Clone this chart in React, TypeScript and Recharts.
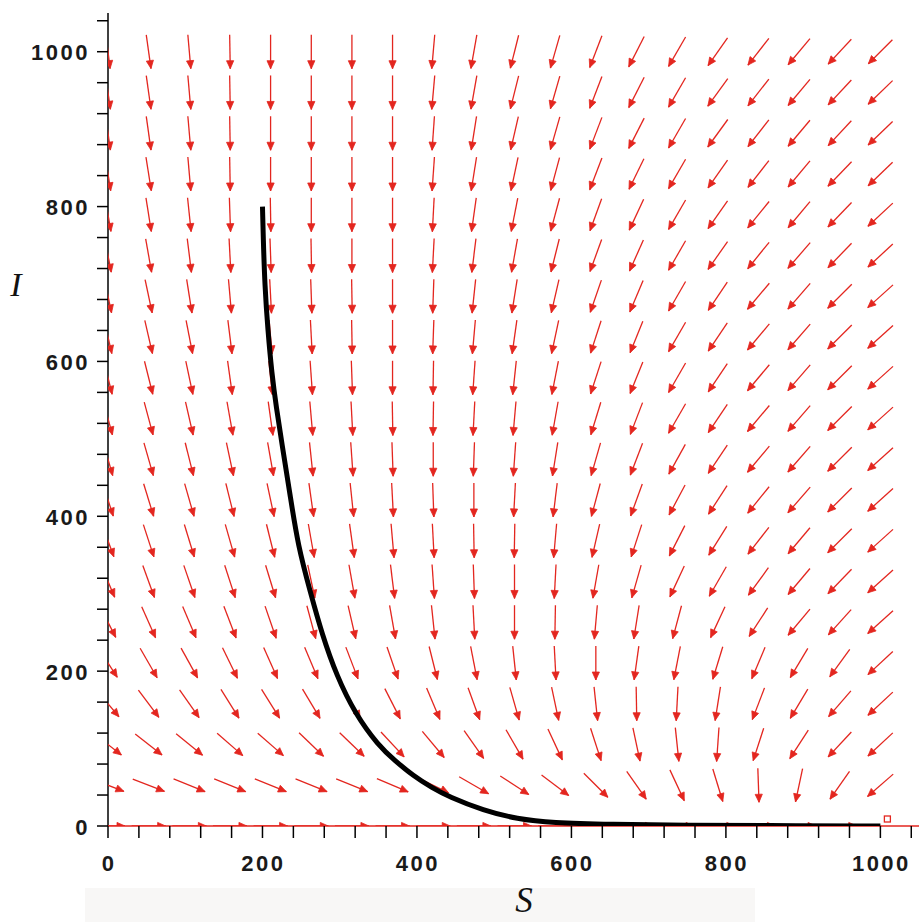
import React from "react";
import { ScatterChart, Scatter, XAxis, YAxis } from "recharts";

// grid of the direction field (S and I values where arrows sit)
const sGrid = [0, 52.6, 105.3, 157.9, 210.5, 263.2, 315.8, 368.4, 421.1, 473.7, 526.3, 578.9, 631.6, 684.2, 736.8, 789.5, 842.1, 894.7, 947.4, 1000];
const iGrid = [0, 52.6, 105.3, 157.9, 210.5, 263.2, 315.8, 368.4, 421.1, 473.7, 526.3, 578.9, 631.6, 684.2, 736.8, 789.5, 842.1, 894.7, 947.4, 1000];

// arrow tilt in degrees: 0 = straight down, + = towards larger S
// one row per I value (bottom row first), null = no arrow (rest point)
const tiltDeg: (number | null)[][] = [
  [90, 90, 90, 90, 90, 90, 90, 90, 90, 90, 90, 90, 90, 90, 90, 90, 90, 90, 90, null],
  [69, 69, 68, 68, 68, 68, 68, 67, 64, 60, 57, 53, 45, 35, 25, 17, 2, -12, -35, -49],
  [52, 52, 51, 49, 49, 46, 46, 43, 40, 35, 30, 25, 18, 12, 6, -4, -18, -33, -43, -47],
  [40, 37, 35, 32, 32, 31, 29, 27, 23, 20, 16, 12, 6, 1, -3, -9, -21, -31, -41, -47],
  [33, 30, 29, 26, 24, 23, 21, 19, 14, 11, 6, 3, 0, -8, -11, -17, -23, -31, -36, -47],
  [27, 24, 23, 21, 19, 15, 13, 10, 6, 3, 0, -1, -5, -9, -15, -25, -33, -40, -42, -48],
  [23, 20, 19, 18, 17, 12, 10, 7, 4, 2, 0, -3, -10, -16, -25, -30, -36, -40, -44, -48],
  [20, 18, 17, 16, 14, 10, 8, 5, 3, 1, -1, -5, -13, -18, -27, -32, -38, -40, -45, -48],
  [18, 17, 16, 14, 12, 8, 6, 3, 2, 0, -3, -7, -15, -20, -28, -33, -39, -41, -45, -48],
  [16, 16, 14, 12, 10, 6, 4, 2, 0, -2, -4, -9, -16, -21, -29, -34, -40, -41, -45, -48],
  [15, 15, 13, 10, 8, 5, 3, 1, -1, -3, -5, -10, -17, -21, -30, -34, -40, -41, -45, -48],
  [14, 14, 12, 8, 6, 4, 2, 0, -1, -4, -6, -11, -18, -22, -30, -34, -40, -41, -45, -48],
  [13, 13, 11, 7, 5, 3, 1, 0, -2, -5, -8, -12, -18, -22, -30, -34, -40, -41, -45, -48],
  [12, 12, 9, 5, 3, 2, 1, 0, -2, -6, -9, -13, -19, -23, -30, -34, -40, -41, -45, -48],
  [11, 10, 7, 3, 2, 1, 0, 0, -3, -7, -10, -14, -20, -24, -30, -35, -39, -41, -44, -47],
  [10, 9, 6, 2, 1, 0, 0, 0, -3, -8, -11, -15, -20, -25, -30, -35, -39, -40, -44, -47],
  [9, 9, 5, 1, 0, 0, 0, 0, -4, -9, -12, -15, -21, -26, -30, -35, -38, -40, -44, -46],
  [8, 8, 5, 1, 0, 0, 0, 0, -4, -9, -13, -16, -21, -27, -30, -36, -38, -40, -43, -46],
  [8, 8, 5, 1, 0, 0, 0, 0, -5, -10, -14, -16, -21, -27, -30, -36, -38, -40, -43, -46],
  [7, 8, 5, 1, 0, 0, 0, 0, -5, -10, -14, -16, -21, -27, -30, -35, -38, -40, -43, -45],
];

// the black solution curve
const curveS = [200, 201, 203, 207, 212, 218, 225, 236, 246, 262, 277, 296, 320, 350, 372, 395, 420, 441, 486, 530, 575, 650, 750, 850, 1000];
const curveI = [800, 760, 698, 640, 585, 540, 495, 426, 362, 302, 248, 194, 145, 104, 84, 65, 49, 38, 20, 9, 4, 2, 1, 0.5, 0];

// axis ticks: minor every 40, labelled every 200
const axisTicks = [0, 40, 80, 120, 160, 200, 240, 280, 320, 360, 400, 440, 480, 520, 560, 600, 640, 680, 720, 760, 800, 840, 880, 920, 960, 1000, 1040];
const labelledTicks = [0, 200, 400, 600, 800, 1000];

const RED = "#e3261f";

const fieldPoints = iGrid.flatMap((I, j) =>
  sGrid.map((S, k) => ({ S, I, tilt: tiltDeg[j][k] }))
);
const curvePoints = curveS.map((S, i) => ({ S, I: curveI[i] }));

const ArrowShape = (props: any) => {
  const { cx, cy, payload } = props;
  if (cx == null || cy == null) return <g />;
  const t = payload.tilt;
  if (t === null) {
    return <rect x={cx + 4} y={cy - 10} width={6} height={6} fill="none" stroke={RED} strokeWidth={1.3} />;
  }
  const a = (t * Math.PI) / 180;
  const dx = Math.sin(a);
  const dy = Math.cos(a);
  const half = 17;
  const x1 = cx - dx * half;
  const y1 = cy - dy * half;
  const x2 = cx + dx * half;
  const y2 = cy + dy * half;
  const hl = 8;
  const hw = 3.6;
  const bx = x2 - dx * hl;
  const by = y2 - dy * hl;
  const px = -dy;
  const py = dx;
  const pts = `${x2},${y2} ${bx + px * hw},${by + py * hw} ${bx - px * hw},${by - py * hw}`;
  return (
    <g>
      <line x1={x1} y1={y1} x2={x2} y2={y2} stroke={RED} strokeWidth={1.3} />
      <polygon points={pts} fill={RED} stroke={RED} strokeWidth={0.8} />
    </g>
  );
};

const tickFont = {
  fontFamily: "'Liberation Sans', Arial, sans-serif",
  fontWeight: 700,
  fontSize: 22,
  fill: "#1a1a1a",
  letterSpacing: 2.5,
};

const XTick = (props: any) => {
  const { x, y, payload } = props;
  const major = labelledTicks.includes(payload.value);
  return (
    <g>
      <line x1={x} y1={y} x2={x} y2={y + 12} stroke="#000" strokeWidth={1.5} />
      {major && (
        <text x={x + 1} y={y + 45} textAnchor="middle" {...tickFont}>
          {payload.value}
        </text>
      )}
    </g>
  );
};

const YTick = (props: any) => {
  const { x, y, payload } = props;
  const major = labelledTicks.includes(payload.value);
  return (
    <g>
      <line x1={x - 11} y1={y} x2={x} y2={y} stroke="#000" strokeWidth={1.5} />
      {major && (
        <text x={x - 18} y={y + 1} textAnchor="end" dominantBaseline="central" {...tickFont}>
          {payload.value}
        </text>
      )}
    </g>
  );
};

const App = () => {
  return (
    <div style={{ position: "absolute", left: 0, top: 0, width: 921, height: 922, background: "#fff" }}>
      <div style={{ position: "absolute", left: 85, top: 888, width: 670, height: 34, background: "#f8f7f6" }} />
      <ScatterChart
        width={921}
        height={922}
        margin={{ top: 13, right: 2, left: 0, bottom: 0 }}
        style={{ position: "absolute", left: 0, top: 0 }}
      >
        <XAxis
          type="number"
          dataKey="S"
          domain={[0, 1050]}
          ticks={axisTicks}
          interval={0}
          height={96}
          tickSize={0}
          tickMargin={0}
          tickLine={false}
          tick={<XTick />}
          axisLine={{ stroke: RED, strokeWidth: 1.5 }}
          allowDataOverflow
          label={() => (
            <text
              x={524}
              y={912}
              textAnchor="middle"
              fontFamily="'Liberation Serif', 'Times New Roman', serif"
              fontStyle="italic"
              fontSize={35}
              fill="#111"
            >
              S
            </text>
          )}
        />
        <YAxis
          type="number"
          dataKey="I"
          domain={[0, 1050]}
          ticks={axisTicks}
          interval={0}
          width={108}
          tickSize={0}
          tickMargin={0}
          tickLine={false}
          tick={<YTick />}
          axisLine={{ stroke: "#000", strokeWidth: 1.5 }}
          allowDataOverflow
          label={() => (
            <text
              x={16}
              y={296}
              textAnchor="middle"
              fontFamily="'Liberation Serif', 'Times New Roman', serif"
              fontStyle="italic"
              fontSize={34}
              fill="#111"
            >
              I
            </text>
          )}
        />
        <Scatter data={fieldPoints} shape={<ArrowShape />} isAnimationActive={false} />
        <Scatter
          data={curvePoints}
          line={{ stroke: "#000", strokeWidth: 5 }}
          lineJointType="basis"
          shape={() => <g />}
          isAnimationActive={false}
        />
      </ScatterChart>
    </div>
  );
};

export default App;
